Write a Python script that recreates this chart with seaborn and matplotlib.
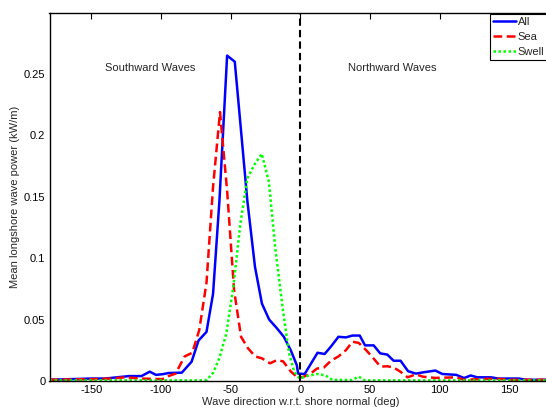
import matplotlib
matplotlib.use("Agg")
import matplotlib.pyplot as plt
import seaborn as sns
import pandas as pd

# ---- data ----
all_x = [-180, -150, -140, -123, -114, -108, -103.6, -99, -94.5, -85, -78, -73, -67.3, -62.6, -58,
         -52.5, -47, -43, -38, -32.5, -27.5, -22.3, -16.8, -11.8, -6.8, -2.5, -1.5, 3.2, 12.4, 17.5,
         22, 27.4, 32.7, 37.5, 42.7, 46.5, 52.7, 57.4, 62.5, 67, 72, 77.4, 83, 88, 97, 102, 112,
         117.6, 122.4, 127, 137, 142, 157, 162, 180]
all_y = [0.001, 0.002, 0.002, 0.004, 0.004, 0.0076, 0.005, 0.0055, 0.0065, 0.0068, 0.0157, 0.033,
         0.040, 0.071, 0.147, 0.265, 0.260, 0.210, 0.147, 0.093, 0.063, 0.050, 0.043, 0.036, 0.025,
         0.013, 0.006, 0.0057, 0.023, 0.022, 0.028, 0.036, 0.0355, 0.037, 0.037, 0.029, 0.029,
         0.0225, 0.0215, 0.0165, 0.0165, 0.008, 0.006, 0.007, 0.0085, 0.0057, 0.005, 0.0024,
         0.0045, 0.003, 0.003, 0.002, 0.002, 0.001, 0.001]

sea_x = [-180, -150, -135, -126, -114, -99, -94.5, -89.5, -83, -77.5, -72.5, -67.3, -62.6, -57.6,
         -52.5, -47.5, -42.5, -37.5, -32.3, -27.6, -21.7, -16.8, -12.3, -6.7, -2.5, 1.4, 7, 12, 17,
         22, 27.4, 32.7, 37.5, 42, 47.4, 52.5, 57.6, 62.5, 67, 72, 77, 83, 88, 97, 112, 117.5,
         140, 150, 180]
sea_y = [0.001, 0.0015, 0.002, 0.003, 0.002, 0.0015, 0.004, 0.006, 0.020, 0.023, 0.0415, 0.080,
         0.158, 0.219, 0.155, 0.074, 0.036, 0.0266, 0.020, 0.0185, 0.0144, 0.017, 0.016, 0.0076,
         0.0035, 0.003, 0.0057, 0.0101, 0.011, 0.0165, 0.020, 0.025, 0.032, 0.031, 0.025, 0.0185,
         0.0117, 0.012, 0.011, 0.0075, 0.003, 0.0054, 0.0035, 0.0025, 0.003, 0.001, 0.002, 0.001,
         0.001]

swell_x = [-180, -120, -70, -67, -62.6, -58, -53, -48, -43, -38, -33, -27.6, -22.5, -18, -12.5,
           -8, -4.3, -0.5, 4.5, 12, 18, 23, 37, 42, 46.5, 100, 180]
swell_y = [0.0005, 0.0005, 0.0005, 0.001, 0.0065, 0.019, 0.039, 0.077, 0.128, 0.165, 0.176, 0.185,
           0.162, 0.109, 0.058, 0.0225, 0.0076, 0.002, 0.004, 0.0057, 0.0046, 0.001, 0.0008,
           0.0035, 0.0005, 0.0005, 0.0005]

series_names = ["All", "Sea", "Swell"]
x_ticks = [-150, -100, -50, 0, 50, 100, 150]
y_ticks = [0, 0.05, 0.1, 0.15, 0.2, 0.25]
y_tick_labels = ["0", "0.05", "0.1", "0.15", "0.2", "0.25"]

# ---- plot ----
sns.set_style("white")
plt.rcParams["font.family"] = ["Liberation Sans", "DejaVu Sans"]
plt.rcParams["font.size"] = 8

fig = plt.figure(figsize=(5.46, 4.08), dpi=100)
ax = fig.add_axes([49.5 / 546, 27 / 408, 501.5 / 546, 368.4 / 408])

df_all = pd.DataFrame({"x": all_x, "y": all_y})
df_sea = pd.DataFrame({"x": sea_x, "y": sea_y})
df_swell = pd.DataFrame({"x": swell_x, "y": swell_y})

sns.lineplot(data=df_all, x="x", y="y", ax=ax, color="#0000ff", lw=1.8,
             label=series_names[0], sort=False, estimator=None)
sns.lineplot(data=df_sea, x="x", y="y", ax=ax, color="#ff0000", lw=1.8,
             linestyle=(0, (3.5, 1.8)), label=series_names[1], sort=False, estimator=None)
sns.lineplot(data=df_swell, x="x", y="y", ax=ax, color="#00ff00", lw=1.8,
             linestyle=(0, (1, 1.0)), label=series_names[2], sort=False, estimator=None)

ax.axvline(0, color="black", lw=1.5, linestyle=(0, (3.5, 2)))

ax.set_xlim(-180, 180)
ax.set_ylim(0, 0.3)
ax.set_xticks(x_ticks)
ax.set_xticklabels([str(t) for t in x_ticks])
ax.set_yticks(y_ticks)
ax.set_yticklabels(y_tick_labels)
ax.tick_params(direction="in", length=4.5, width=0.8, top=True, right=False,
               labelsize=8, colors="black", pad=3)
for s in ax.spines.values():
    s.set_color("black")
    s.set_linewidth(1.0)

ax.set_xlabel("Wave direction w.r.t. shore normal (deg)", fontsize=8, labelpad=1)
ax.set_ylabel("Mean longshore wave power (kW/m)", fontsize=8, labelpad=3)

ax.text(-108, 0.255, "Southward Waves", ha="center", va="center", fontsize=8)
ax.text(66, 0.255, "Northward Waves", ha="center", va="center", fontsize=8)

leg = ax.legend(loc="upper left", bbox_to_anchor=(0.8790, 0.996), frameon=True, fancybox=False,
                edgecolor="black", framealpha=1, fontsize=8, handlelength=2.1,
                handletextpad=0.1, borderpad=0.25, labelspacing=0.45, borderaxespad=0)
leg.get_frame().set_linewidth(0.8)

fig.savefig("out.png", dpi=100)
